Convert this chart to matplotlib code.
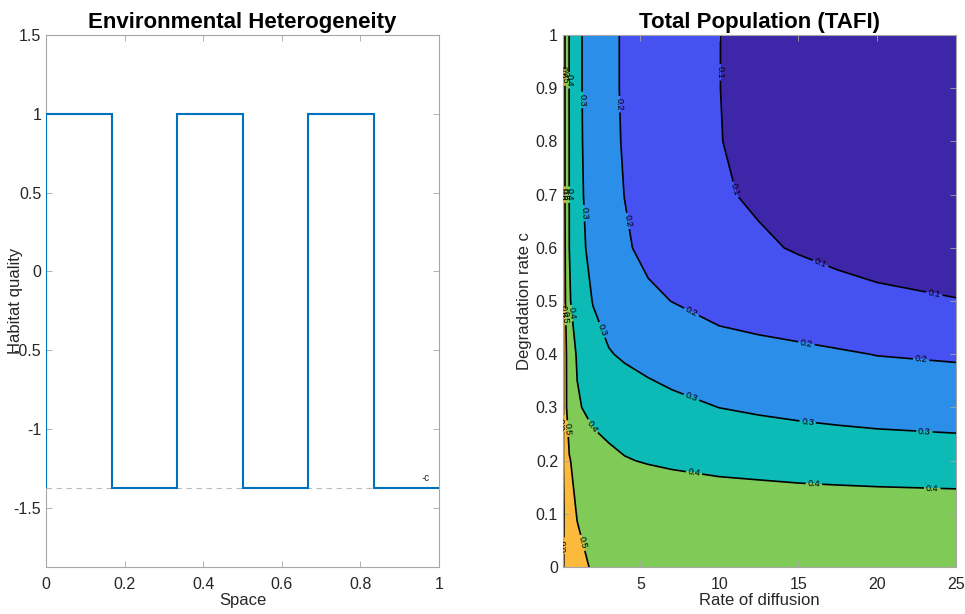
import numpy as np
import matplotlib
matplotlib.use("Agg")
import matplotlib.pyplot as plt

plt.rcParams['font.family'] = ['Liberation Sans', 'DejaVu Sans']

# left panel: patchy habitat
c_val = 1.375
space_edges = [0, 1/6, 2/6, 3/6, 4/6, 5/6, 1]
quality = [1, -c_val, 1, -c_val, 1, -c_val]

# right panel: total population over (diffusion, degradation)
diff_rate = [0.1, 0.2, 0.5, 1, 2, 3, 4, 5.5, 7, 10, 12.5, 15, 17.5, 20, 25]
degr_rate = [0.0, 0.1, 0.2, 0.3, 0.4, 0.5, 0.6, 0.7, 0.8, 0.9, 1.0]
tafi = [
    [0.61, 0.59, 0.56, 0.53, 0.49, 0.489, 0.488, 0.487, 0.486, 0.484, 0.483, 0.482, 0.481, 0.48, 0.478],
    [0.62, 0.59, 0.54, 0.495, 0.49, 0.487, 0.483, 0.479, 0.475, 0.465, 0.46, 0.455, 0.452, 0.45, 0.446],
    [0.61, 0.57, 0.505, 0.475, 0.44, 0.42, 0.405, 0.394, 0.385, 0.372, 0.366, 0.36, 0.356, 0.352, 0.348],
    [0.64, 0.53, 0.46, 0.41, 0.375, 0.36, 0.35, 0.333, 0.32, 0.2995, 0.289, 0.28, 0.272, 0.265, 0.255],
    [0.635, 0.53, 0.455, 0.39, 0.33, 0.305, 0.29, 0.274, 0.26, 0.24, 0.23, 0.22, 0.209, 0.198, 0.19],
    [0.63, 0.52, 0.41, 0.35, 0.297, 0.265, 0.237, 0.215, 0.199, 0.165, 0.148, 0.135, 0.124, 0.115, 0.103],
    [0.625, 0.515, 0.40, 0.335, 0.27, 0.235, 0.21, 0.18, 0.158, 0.127, 0.109, 0.095, 0.083, 0.072, 0.055],
    [0.62, 0.51, 0.398, 0.325, 0.262, 0.227, 0.199, 0.168, 0.142, 0.107, 0.091, 0.078, 0.067, 0.057, 0.041],
    [0.62, 0.51, 0.397, 0.322, 0.257, 0.222, 0.193, 0.163, 0.138, 0.1015, 0.085, 0.072, 0.062, 0.052, 0.037],
    [0.62, 0.51, 0.395, 0.32, 0.255, 0.22, 0.19, 0.161, 0.135, 0.1005, 0.084, 0.07, 0.06, 0.05, 0.035],
    [0.62, 0.51, 0.395, 0.32, 0.255, 0.22, 0.19, 0.161, 0.135, 0.1005, 0.084, 0.07, 0.06, 0.05, 0.035],
]
levels = [0.0, 0.1, 0.2, 0.3, 0.4, 0.5, 0.6, 0.7]
fill_colors = ['#3E26A8', '#4651F2', '#2B8FE9', '#0CBAB6', '#80CA57', '#FBBA3C', '#F8FA14']

# where the inline labels sit (diffusion, c)
label_spots = {
    0.1: [(10.05, 0.93), (11.1, 0.71), (16.3, 0.562), (23.6, 0.51)],
    0.2: [(3.65, 0.87), (4.1, 0.65), (8.2, 0.477), (15.5, 0.417), (22.8, 0.393)],
    0.3: [(1.27, 0.878), (1.3, 0.665), (2.5, 0.445), (8.2, 0.316), (15.6, 0.273), (23, 0.254)],
    0.4: [(0.45, 0.915), (0.47, 0.70), (0.6, 0.477), (1.7, 0.26), (8.4, 0.177), (16, 0.158), (23.5, 0.148)],
    0.5: [(1.3, 0.045), (0.3, 0.26), (0.22, 0.47), (0.22, 0.7), (0.22, 0.92)],
    0.6: [(0.12, 0.04), (0.12, 0.27), (0.12, 0.48), (0.12, 0.7), (0.12, 0.93)],
}

spine_col = '#A6A6A6'
text_col = '#262626'

fig = plt.figure(figsize=(9.65, 6.14), dpi=100)
ax1 = fig.add_axes([0.0477, 0.0765, 0.4073, 0.8664])
ax2 = fig.add_axes([0.5834, 0.0765, 0.4073, 0.8664])

def style(ax):
    for s in ax.spines.values():
        s.set_color(spine_col)
        s.set_linewidth(0.8)
    ax.tick_params(direction='in', top=True, right=True, length=4, width=0.6,
                   color=spine_col, labelcolor=text_col, labelsize=11.5)
    ax.tick_params(axis='x', pad=7)

# ---- left
ax1.stairs(quality, space_edges, baseline=-c_val, color='#0072BD', linewidth=1.5, zorder=3)
ax1.plot([0, 1], [-c_val, -c_val], color='#BBBBBB', linestyle=(0, (5, 4)), linewidth=0.8, zorder=2)
ax1.text(0.965, -c_val + 0.03, '-c', fontsize=7, color=text_col, ha='center', va='bottom')
ax1.set_xlim(0, 1)
ax1.set_ylim(-c_val - 0.5, 1.5)
ax1.set_xticks([0, 0.2, 0.4, 0.6, 0.8, 1])
ax1.set_xticklabels(['0', '0.2', '0.4', '0.6', '0.8', '1'])
ax1.set_yticks([-1.5, -1, -0.5, 0, 0.5, 1, 1.5])
ax1.set_yticklabels(['-1.5', '-1', '-0.5', '0', '0.5', '1', '1.5'])
style(ax1)
ax1.set_title('Environmental Heterogeneity', fontsize=16, fontweight='bold', pad=5)
ax1.set_xlabel('Space', fontsize=12, color=text_col, labelpad=1)
ax1.set_ylabel('Habitat quality', fontsize=12, color=text_col)
ax1.yaxis.set_label_coords(-0.058, 0.5)

# ---- right
D, C = np.meshgrid(diff_rate, degr_rate)
Z = np.array(tafi)
ax2.contourf(D, C, Z, levels=levels, colors=fill_colors)
for lev in levels[1:-1]:
    cs = ax2.contour(D, C, Z, levels=[lev], colors='k', linewidths=1.2)
    ax2.clabel(cs, manual=label_spots[lev], inline=True, fontsize=6.5,
               fmt='%.1f', inline_spacing=2)
ax2.set_xlim(0.1, 25)
ax2.set_ylim(0, 1)
ax2.set_xticks([5, 10, 15, 20, 25])
ax2.set_yticks(degr_rate)
ax2.set_yticklabels(['0', '0.1', '0.2', '0.3', '0.4', '0.5', '0.6', '0.7', '0.8', '0.9', '1'])
style(ax2)
ax2.set_title('Total Population (TAFI)', fontsize=16, fontweight='bold', pad=5)
ax2.set_xlabel('Rate of diffusion', fontsize=12, color=text_col, labelpad=1)
ax2.set_ylabel('Degradation rate c', fontsize=12, color=text_col, labelpad=3)

fig.savefig('out.png', dpi=100)
